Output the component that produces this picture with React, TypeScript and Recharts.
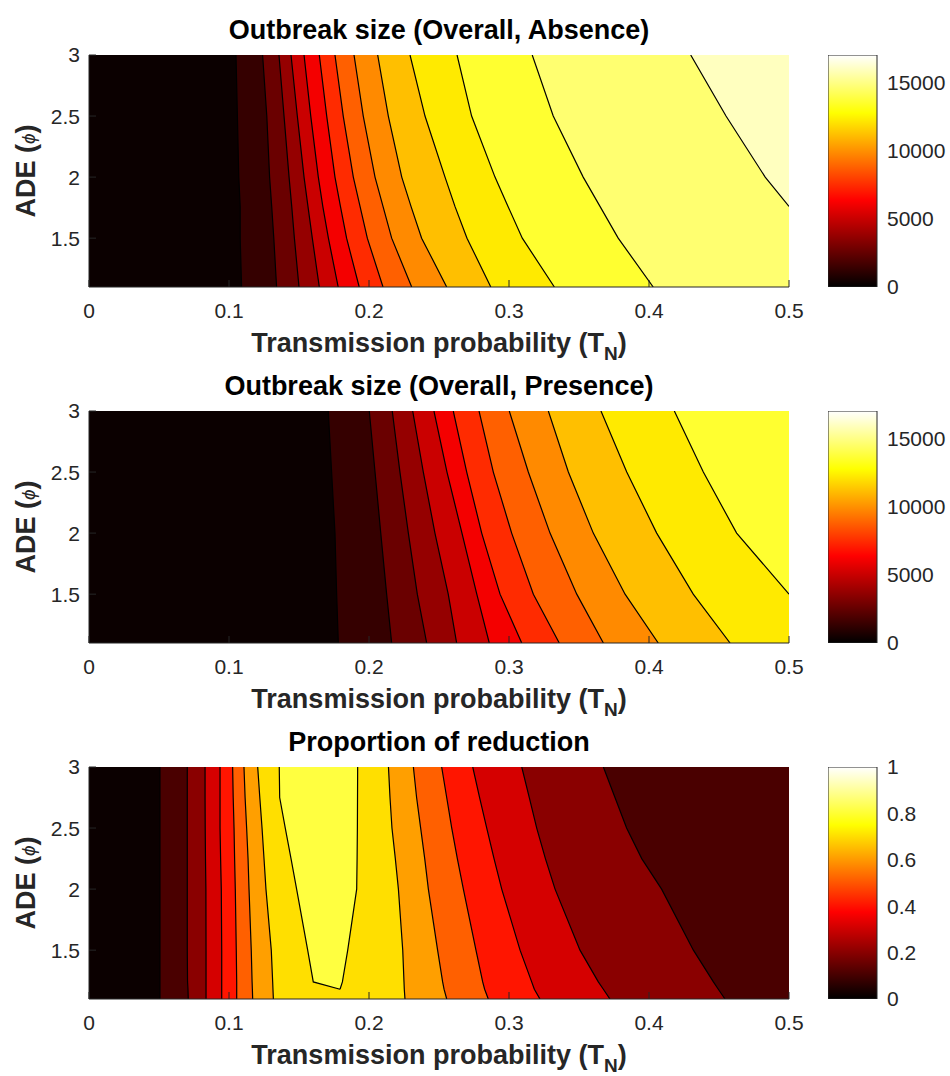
import React from 'react';
import { ComposedChart, Area, Line, XAxis, YAxis, BarChart, Bar } from 'recharts';

const xTicks = [0, 0.1, 0.2, 0.3, 0.4, 0.5];
const yTicks = [1.5, 2, 2.5, 3];
const X_MAX = 0.5;

// Outbreak size (Overall, Absence): contour levels and where each line crosses the rows below
const absenceLevels = [1250, 2500, 3750, 5000, 6250, 7500, 8750, 10000, 11250, 12500, 13750, 15000, 16250];
const absenceY = [1.1, 1.5, 1.76, 2, 2.5, 3];
const absenceLines = [
  [0.109, 0.108, 0.108, 0.107, 0.106, 0.105],
  [0.134, 0.132, 0.1305, 0.129, 0.127, 0.124],
  [0.15, 0.1467, 0.1448, 0.1429, 0.1393, 0.1357],
  [0.1645, 0.1595, 0.1564, 0.1536, 0.1488, 0.1443],
  [0.178, 0.171, 0.167, 0.1638, 0.1584, 0.1536],
  [0.193, 0.184, 0.1796, 0.1757, 0.1698, 0.1645],
  [0.21, 0.1988, 0.1936, 0.1888, 0.1816, 0.1757],
  [0.2305, 0.2162, 0.21, 0.2043, 0.1959, 0.1893],
  [0.2555, 0.2376, 0.23, 0.2234, 0.2138, 0.2062],
  [0.287, 0.27, 0.2614, 0.2543, 0.24, 0.2293],
  [0.3324, 0.3095, 0.2993, 0.29, 0.2733, 0.2629],
  [0.403, 0.378, 0.365, 0.353, 0.3316, 0.3166],
  [null, null, 0.5, 0.483, 0.455, 0.4298],
];

// Outbreak size (Overall, Presence)
const presenceLevels = [1250, 2500, 3750, 5000, 6250, 7500, 8750, 10000, 11250, 12500, 13750];
const presenceY = [1.1, 1.5, 2, 2.5, 3];
const presenceLines = [
  [0.1781, 0.1769, 0.1757, 0.1733, 0.1709],
  [0.2162, 0.2126, 0.2084, 0.2043, 0.2002],
  [0.2412, 0.2345, 0.2281, 0.2221, 0.2166],
  [0.2626, 0.2566, 0.2471, 0.2388, 0.2312],
  [0.2859, 0.277, 0.2664, 0.2557, 0.2464],
  [0.3091, 0.2936, 0.2805, 0.2698, 0.2602],
  [0.3359, 0.3174, 0.3019, 0.2888, 0.2786],
  [0.3674, 0.3484, 0.3293, 0.3138, 0.3002],
  [0.4066, 0.3829, 0.3602, 0.3424, 0.3281],
  [0.4579, 0.4316, 0.4055, 0.3841, 0.3657],
  [null, 0.5, 0.4626, 0.4388, 0.4181],
];

const sizeColorMax = 17500;
const sizeBarMax = 17000;
const sizeBarTicks = [0, 5000, 10000, 15000];

// Proportion of reduction: rises then falls along x, so each level has a left and a right line
const reductionLevels = [0.1, 0.2, 0.3, 0.4, 0.5, 0.6, 0.7, 0.8];
const reductionY = [1.1, 1.18, 1.24, 1.5, 2, 2.25, 2.5, 2.75, 3];
const reductionLeft = [
  [0.0507, 0.0507, 0.0507, 0.0507, 0.0507, 0.0507, 0.0507, 0.0507, 0.0507],
  [0.0709, 0.0707, 0.0704, 0.0702, 0.0702, 0.0702, 0.0702, 0.0702, 0.0702],
  [0.0836, 0.0836, 0.0836, 0.0836, 0.0835, 0.0832, 0.083, 0.0829, 0.0829],
  [0.0948, 0.0948, 0.0948, 0.0948, 0.0945, 0.094, 0.0936, 0.0936, 0.0936],
  [0.1055, 0.1055, 0.1055, 0.1052, 0.1045, 0.104, 0.1036, 0.103, 0.1026],
  [0.1169, 0.1167, 0.1165, 0.1159, 0.1143, 0.1136, 0.1126, 0.1115, 0.1107],
  [0.1317, 0.1314, 0.1312, 0.1302, 0.1264, 0.125, 0.1236, 0.122, 0.1205],
  [null, 0.1793, 0.1602, 0.1562, 0.1483, 0.1443, 0.1402, 0.1362, 0.1359],
];
// right-hand lines for levels 0.2 .. 0.8 (level 0.1 runs off the right edge)
const reductionRight = [
  [0.4543, 0.4495, 0.446, 0.4317, 0.409, 0.3948, 0.384, 0.3757, 0.3674],
  [0.3721, 0.3674, 0.3638, 0.3507, 0.3329, 0.326, 0.3198, 0.3145, 0.3091],
  [0.3221, 0.3181, 0.3162, 0.3079, 0.2948, 0.2893, 0.2841, 0.279, 0.2741],
  [0.2852, 0.2826, 0.2812, 0.2764, 0.2674, 0.2631, 0.2591, 0.2555, 0.2519],
  [0.2555, 0.2536, 0.2526, 0.249, 0.2424, 0.2398, 0.2369, 0.234, 0.2317],
  [0.2257, 0.2252, 0.225, 0.2241, 0.221, 0.2188, 0.2164, 0.215, 0.2139],
  [null, 0.1793, 0.181, 0.1848, 0.1912, 0.1915, 0.1917, 0.1918, 0.1919],
];
const reductionColorMax = 1;
const reductionBarMax = 1;
const reductionBarTicks = [0, 0.2, 0.4, 0.6, 0.8, 1];

const INK = '#262626';
const FONT = '"Liberation Sans", Arial, Helvetica, sans-serif';
const PLOT_H = 232;
const PLOT_LEFT = 89;
const PLOT_W = 700;
const TOP_PAD = 16;

// MATLAB "hot" colormap, 64 entries
function hot(v: number) {
  const m = 64;
  const n = 24;
  const i = Math.min(m, Math.max(1, Math.floor(v * m) + 1));
  const r = Math.min(1, i / n);
  const g = Math.min(1, Math.max(0, (i - n) / n));
  const b = Math.min(1, Math.max(0, (i - 2 * n) / (m - 2 * n)));
  const h = (c: number) => Math.round(c * 255).toString(16).padStart(2, '0');
  return `#${h(r)}${h(g)}${h(b)}`;
}

type Series = (number | null)[];

// b{k}: [left, right] span where the value is above level k; s{j}: x of contour line j
function buildRows(ys: number[], regions: [Series, Series][], strokes: Series[]) {
  return ys.map((y, i) => {
    const row: any = { y, b0: [0, X_MAX] };
    regions.forEach(([lo, hi], k) => {
      const a = lo[i];
      const b = hi[i];
      row['b' + (k + 1)] = a == null || b == null ? null : [a, b];
    });
    strokes.forEach((s, j) => {
      row['s' + j] = s[i];
    });
    return row;
  });
}

const toEdge = (l: Series) => l.map((v) => (v == null ? null : X_MAX));

const absenceRows = buildRows(
  absenceY,
  absenceLines.map((l) => [l, toEdge(l)] as [Series, Series]),
  absenceLines
);
const presenceRows = buildRows(
  presenceY,
  presenceLines.map((l) => [l, toEdge(l)] as [Series, Series]),
  presenceLines
);
const reductionRows = buildRows(
  reductionY,
  reductionLeft.map((l, k) => [l, k === 0 ? toEdge(l) : reductionRight[k - 1]] as [Series, Series]),
  [...reductionLeft, ...reductionRight]
);

const xLabel = (props: any) => {
  const { x, y, width } = props.viewBox;
  return (
    <text x={x + width / 2} y={y + 65} textAnchor="middle" fontSize={27} fontWeight="bold" fill={INK}>
      Transmission probability (T<tspan fontSize={19} dy={8}>N</tspan>
      <tspan dy={-8}>)</tspan>
    </text>
  );
};

const yLabel = (props: any) => {
  const { x, y, height } = props.viewBox;
  const cx = x + 35;
  const cy = y + height / 2;
  return (
    <text x={cx} y={cy} transform={`rotate(-90 ${cx} ${cy})`} textAnchor="middle" fontSize={27} fontWeight="bold" fill={INK}>
      ADE (<tspan fontStyle="italic" fontWeight="normal" fontSize={19}>ϕ</tspan>)
    </text>
  );
};

type PanelProps = {
  top: number;
  title: string;
  rows: any[];
  levels: number[];
  lineCount: number;
  colorMax: number;
  barMax: number;
  barTicks: number[];
  id: string;
};

const Panel = ({ top, title, rows, levels, lineCount, colorMax, barMax, barTicks, id }: PanelProps) => {
  const fills = [hot(0), ...levels.map((l) => hot(l / colorMax))];
  return (
    <>
      <div
        style={{
          position: 'absolute',
          left: PLOT_LEFT,
          width: PLOT_W,
          top: top - 15 - 23,
          textAlign: 'center',
          fontSize: 27,
          lineHeight: '27px',
          fontWeight: 'bold',
          color: '#000',
          whiteSpace: 'nowrap',
        }}
      >
        {title}
      </div>
      <div style={{ position: 'absolute', left: 0, top: top - TOP_PAD }}>
        <ComposedChart
          layout="vertical"
          width={820}
          height={TOP_PAD + PLOT_H + 80}
          data={rows}
          margin={{ top: TOP_PAD, right: 31, bottom: 0, left: 0 }}
        >
          {fills.map((f, k) => (
            <Area
              key={'b' + k}
              dataKey={'b' + k}
              type="linear"
              fill={f}
              fillOpacity={1}
              stroke="none"
              dot={false}
              activeDot={false}
              isAnimationActive={false}
            />
          ))}
          {Array.from({ length: lineCount }, (_, j) => (
            <Line
              key={'s' + j}
              dataKey={'s' + j}
              type="linear"
              stroke="#000"
              strokeWidth={1.2}
              dot={false}
              activeDot={false}
              isAnimationActive={false}
            />
          ))}
          <XAxis
            type="number"
            domain={[0, X_MAX]}
            ticks={xTicks}
            interval={0}
            allowDataOverflow
            height={80}
            stroke={INK}
            tickSize={-7}
            tickMargin={23}
            tick={{ fontSize: 21, fill: INK }}
            label={xLabel}
          />
          <XAxis
            xAxisId="top"
            orientation="top"
            type="number"
            domain={[0, X_MAX]}
            ticks={xTicks}
            interval={0}
            allowDataOverflow
            height={0}
            stroke={INK}
            tickSize={-7}
            tick={false}
          />
          <YAxis
            type="number"
            dataKey="y"
            domain={[1.1, 3]}
            ticks={yTicks}
            interval={0}
            reversed
            allowDataOverflow
            width={PLOT_LEFT}
            stroke={INK}
            tickSize={-7}
            tickMargin={16}
            tick={{ fontSize: 21, fill: INK }}
            label={yLabel}
          />
          <YAxis
            yAxisId="right"
            orientation="right"
            type="number"
            domain={[1.1, 3]}
            ticks={yTicks}
            interval={0}
            reversed
            allowDataOverflow
            width={0}
            stroke={INK}
            tickSize={-7}
            tick={false}
          />
        </ComposedChart>
      </div>
      <div style={{ position: 'absolute', left: 828, top: top - 15 }}>
        <BarChart
          width={122}
          height={PLOT_H + 30}
          data={[{ name: 'scale', value: barMax }]}
          margin={{ top: 15, right: 0, bottom: 15, left: 0 }}
          barCategoryGap={0}
        >
          <defs>
            <linearGradient id={id} x1="0" y1="1" x2="0" y2="0">
              <stop offset="0" stopColor="#000000" />
              <stop offset="0.375" stopColor="#ff0000" />
              <stop offset="0.75" stopColor="#ffff00" />
              <stop offset="1" stopColor="#ffffff" />
            </linearGradient>
          </defs>
          <XAxis dataKey="name" hide />
          <YAxis
            orientation="right"
            type="number"
            domain={[0, barMax]}
            ticks={barTicks}
            interval={0}
            allowDataOverflow
            width={73}
            axisLine={false}
            tickLine={false}
            tickSize={0}
            tickMargin={10}
            tick={{ fontSize: 21, fill: INK }}
          />
          <Bar dataKey="value" fill={`url(#${id})`} stroke={INK} strokeWidth={1} isAnimationActive={false} />
        </BarChart>
      </div>
    </>
  );
};

export default function App() {
  return (
    <div
      style={{
        position: 'absolute',
        left: 0,
        top: 0,
        width: 950,
        height: 1076,
        background: '#fff',
        fontFamily: FONT,
      }}
    >
      <Panel
        top={55}
        title="Outbreak size (Overall, Absence)"
        rows={absenceRows}
        levels={absenceLevels}
        lineCount={absenceLines.length}
        colorMax={sizeColorMax}
        barMax={sizeBarMax}
        barTicks={sizeBarTicks}
        id="hotAbsence"
      />
      <Panel
        top={411}
        title="Outbreak size (Overall, Presence)"
        rows={presenceRows}
        levels={presenceLevels}
        lineCount={presenceLines.length}
        colorMax={sizeColorMax}
        barMax={sizeBarMax}
        barTicks={sizeBarTicks}
        id="hotPresence"
      />
      <Panel
        top={767}
        title="Proportion of reduction"
        rows={reductionRows}
        levels={reductionLevels}
        lineCount={reductionLeft.length + reductionRight.length}
        colorMax={reductionColorMax}
        barMax={reductionBarMax}
        barTicks={reductionBarTicks}
        id="hotReduction"
      />
    </div>
  );
}
